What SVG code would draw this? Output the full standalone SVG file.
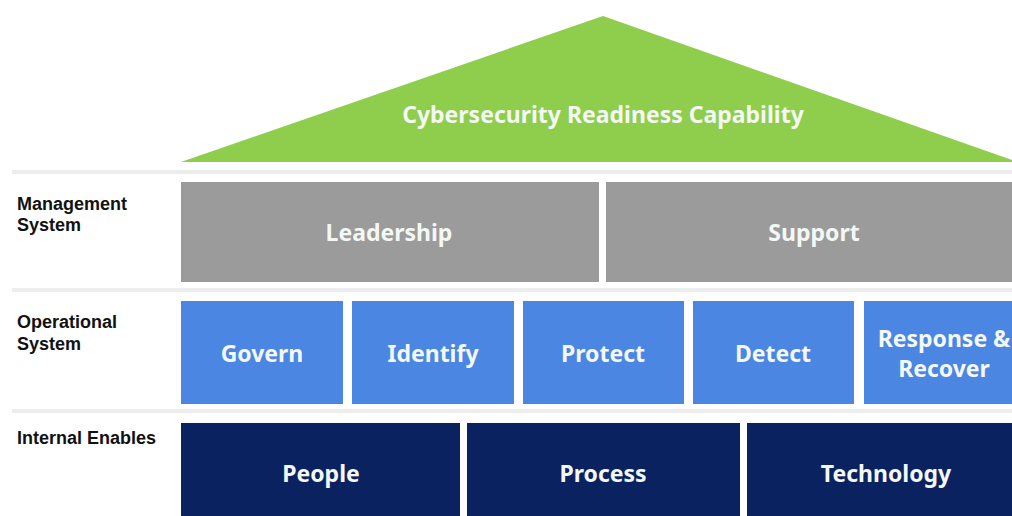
<svg xmlns="http://www.w3.org/2000/svg" width="1012" height="516" viewBox="0 0 1012 516">
  <style>
    .sep { fill: #ededed; }
    .row-label { font-family: "Liberation Sans", Arial, sans-serif; font-weight: bold; font-size: 18px; fill: #111; }
    .box-text { font-family: "Noto Sans", "Open Sans", sans-serif; font-weight: bold; font-size: 23px; fill: #f4f8f4; text-anchor: middle; }
    .roof { fill: #8fcd4c; }
    .mgmt { fill: #9b9b9b; }
    .ops { fill: #4a86e2; }
    .enab { fill: #0b2261; }
  </style>
  <rect width="1012" height="516" fill="#ffffff"/>

  <!-- row separators -->
  <g id="separators">
    <rect class="sep" x="12" y="170" width="1000" height="4"/>
    <rect class="sep" x="12" y="288" width="1000" height="4"/>
    <rect class="sep" x="12" y="409" width="1000" height="4"/>
  </g>

  <!-- roof -->
  <g id="roof">
    <polygon class="roof" points="181,162 603,16 1012,160 1012,162"/>
    <text class="box-text" x="603" y="123">Cybersecurity Readiness Capability</text>
  </g>

  <!-- row labels -->
  <g id="labels">
    <text class="row-label" x="17" y="210">Management</text>
    <text class="row-label" x="17" y="231">System</text>
    <text class="row-label" x="17" y="328">Operational</text>
    <text class="row-label" x="17" y="350">System</text>
    <text class="row-label" x="17" y="444">Internal Enables</text>
  </g>

  <!-- management system -->
  <g id="leadership">
    <rect class="mgmt" x="181" y="182" width="418" height="100"/>
    <text class="box-text" x="389" y="241">Leadership</text>
  </g>
  <g id="support">
    <rect class="mgmt" x="606" y="182" width="406" height="100"/>
    <text class="box-text" x="814" y="241">Support</text>
  </g>

  <!-- operational system -->
  <g id="govern">
    <rect class="ops" x="181" y="301" width="162" height="103"/>
    <text class="box-text" x="262" y="362">Govern</text>
  </g>
  <g id="identify">
    <rect class="ops" x="352" y="301" width="162" height="103"/>
    <text class="box-text" x="433" y="362">Identify</text>
  </g>
  <g id="protect">
    <rect class="ops" x="523" y="301" width="161" height="103"/>
    <text class="box-text" x="603" y="362">Protect</text>
  </g>
  <g id="detect">
    <rect class="ops" x="693" y="301" width="161" height="103"/>
    <text class="box-text" x="773" y="362">Detect</text>
  </g>
  <g id="respond">
    <rect class="ops" x="864" y="301" width="148" height="103"/>
    <text class="box-text" x="944" y="347">Response &amp;</text>
    <text class="box-text" x="944" y="377">Recover</text>
  </g>

  <!-- internal enablers -->
  <g id="people">
    <rect class="enab" x="181" y="423" width="279" height="93"/>
    <text class="box-text" x="321" y="482">People</text>
  </g>
  <g id="process">
    <rect class="enab" x="467" y="423" width="273" height="93"/>
    <text class="box-text" x="603" y="482">Process</text>
  </g>
  <g id="technology">
    <rect class="enab" x="747" y="423" width="265" height="93"/>
    <text class="box-text" x="886" y="482">Technology</text>
  </g>

  <!-- connectors: none in this layout -->
  <g id="connectors"/>
</svg>
